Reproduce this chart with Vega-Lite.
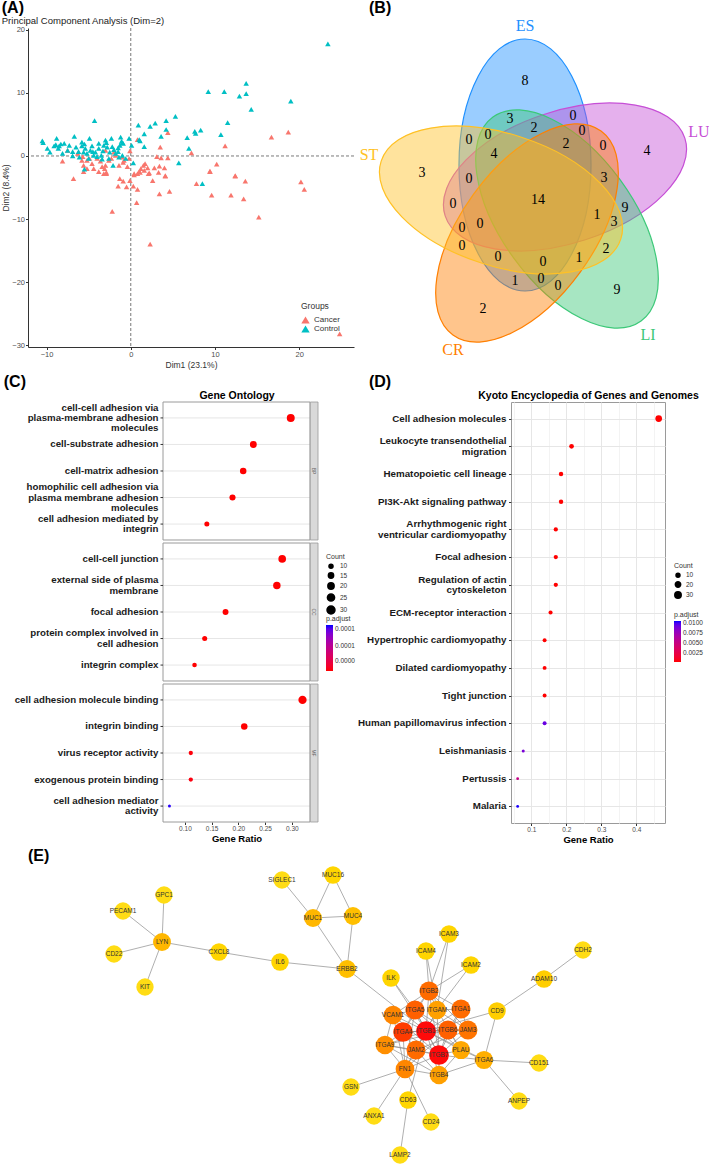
{
"$schema": "https://vega.github.io/schema/vega-lite/v6.json",
"padding": {"left": 1, "top": 0, "right": 0, "bottom": 0},
"background": "white",
"config": {
  "font": "Liberation Sans",
  "view": {"stroke": null},
  "title": {"fontSize": 16, "fontWeight": "bold", "color": "#000", "anchor": "start", "frame": "bounds", "subtitleFontSize": 9.5, "subtitleColor": "#222", "subtitleFont": "Liberation Sans", "font": "Liberation Sans"},
  "axis": {"labelFont": "Liberation Sans", "titleFont": "Liberation Sans"},
  "legend": {"labelFont": "Liberation Sans", "titleFont": "Liberation Sans", "labelColor": "#333", "titleColor": "#333"}
},
"datasets": {
  "pca": [
    {"dim1": 16.7, "dim2": 3.0, "group": "Cancer"}, {"dim1": 18.7, "dim2": 3.8, "group": "Cancer"}, {"dim1": 11.2, "dim2": 1.6, "group": "Cancer"},
    {"dim1": 4.4, "dim2": 3.7, "group": "Cancer"}, {"dim1": 3.5, "dim2": 1.4, "group": "Cancer"}, {"dim1": 7.2, "dim2": 0.5, "group": "Cancer"},
    {"dim1": 0.8, "dim2": 2.6, "group": "Cancer"}, {"dim1": 3.1, "dim2": -0.1, "group": "Cancer"}, {"dim1": 3.6, "dim2": -0.3, "group": "Cancer"},
    {"dim1": 4.4, "dim2": -0.3, "group": "Cancer"}, {"dim1": 10.2, "dim2": -1.3, "group": "Cancer"}, {"dim1": 9.4, "dim2": -2.4, "group": "Cancer"},
    {"dim1": 12.4, "dim2": -3.1, "group": "Cancer"}, {"dim1": 2.8, "dim2": -1.9, "group": "Cancer"}, {"dim1": 3.4, "dim2": -1.6, "group": "Cancer"},
    {"dim1": 4.0, "dim2": -1.9, "group": "Cancer"}, {"dim1": 4.1, "dim2": -3.1, "group": "Cancer"}, {"dim1": -0.1, "dim2": 0.8, "group": "Cancer"},
    {"dim1": -0.2, "dim2": -0.4, "group": "Cancer"}, {"dim1": 1.7, "dim2": -1.2, "group": "Cancer"}, {"dim1": 1.5, "dim2": -1.5, "group": "Cancer"},
    {"dim1": 2.0, "dim2": -1.9, "group": "Cancer"}, {"dim1": 1.2, "dim2": -2.0, "group": "Cancer"}, {"dim1": 0.8, "dim2": -2.8, "group": "Cancer"},
    {"dim1": 0.4, "dim2": -3.0, "group": "Cancer"}, {"dim1": 1.0, "dim2": -2.5, "group": "Cancer"}, {"dim1": 2.2, "dim2": -2.7, "group": "Cancer"},
    {"dim1": 1.6, "dim2": -2.3, "group": "Cancer"}, {"dim1": -3.0, "dim2": 0.9, "group": "Cancer"}, {"dim1": -2.0, "dim2": 0.6, "group": "Cancer"},
    {"dim1": -1.8, "dim2": 0.1, "group": "Cancer"}, {"dim1": -2.6, "dim2": -0.7, "group": "Cancer"}, {"dim1": -3.0, "dim2": -1.5, "group": "Cancer"},
    {"dim1": -3.1, "dim2": -2.0, "group": "Cancer"}, {"dim1": -2.9, "dim2": -2.8, "group": "Cancer"}, {"dim1": -2.3, "dim2": -0.4, "group": "Cancer"},
    {"dim1": -1.0, "dim2": -0.2, "group": "Cancer"}, {"dim1": -0.9, "dim2": -1.0, "group": "Cancer"}, {"dim1": -0.8, "dim2": -0.7, "group": "Cancer"},
    {"dim1": -5.7, "dim2": -0.1, "group": "Cancer"}, {"dim1": -5.2, "dim2": -0.7, "group": "Cancer"}, {"dim1": -5.6, "dim2": -1.5, "group": "Cancer"},
    {"dim1": -4.6, "dim2": -1.2, "group": "Cancer"}, {"dim1": -4.0, "dim2": -0.4, "group": "Cancer"}, {"dim1": -3.6, "dim2": -0.8, "group": "Cancer"},
    {"dim1": -3.4, "dim2": -1.7, "group": "Cancer"}, {"dim1": -4.4, "dim2": -2.0, "group": "Cancer"}, {"dim1": -5.2, "dim2": -2.0, "group": "Cancer"},
    {"dim1": -8.1, "dim2": -0.8, "group": "Cancer"}, {"dim1": -7.5, "dim2": 0.9, "group": "Cancer"}, {"dim1": -6.3, "dim2": 0.4, "group": "Cancer"},
    {"dim1": -5.8, "dim2": -0.7, "group": "Cancer"}, {"dim1": -4.9, "dim2": -0.4, "group": "Cancer"}, {"dim1": -1.4, "dim2": -1.5, "group": "Cancer"},
    {"dim1": -0.4, "dim2": -1.7, "group": "Cancer"}, {"dim1": -3.8, "dim2": -2.5, "group": "Cancer"}, {"dim1": -6.8, "dim2": -3.6, "group": "Cancer"},
    {"dim1": -5.6, "dim2": -2.5, "group": "Cancer"}, {"dim1": -3.2, "dim2": -2.8, "group": "Cancer"}, {"dim1": -2.9, "dim2": -2.6, "group": "Cancer"},
    {"dim1": -1.3, "dim2": -3.6, "group": "Cancer"}, {"dim1": -0.9, "dim2": -4.0, "group": "Cancer"}, {"dim1": -1.5, "dim2": -4.8, "group": "Cancer"},
    {"dim1": -0.5, "dim2": -4.9, "group": "Cancer"}, {"dim1": -0.1, "dim2": -3.9, "group": "Cancer"}, {"dim1": 0.3, "dim2": -4.8, "group": "Cancer"},
    {"dim1": 0.8, "dim2": -5.3, "group": "Cancer"}, {"dim1": 0.7, "dim2": -7.4, "group": "Cancer"}, {"dim1": -2.2, "dim2": -8.8, "group": "Cancer"},
    {"dim1": 0.4, "dim2": -2.8, "group": "Cancer"}, {"dim1": 1.1, "dim2": -2.6, "group": "Cancer"}, {"dim1": 2.1, "dim2": -2.8, "group": "Cancer"},
    {"dim1": 3.3, "dim2": -2.6, "group": "Cancer"}, {"dim1": 2.6, "dim2": -3.9, "group": "Cancer"}, {"dim1": 4.1, "dim2": -3.2, "group": "Cancer"},
    {"dim1": 3.4, "dim2": -6.0, "group": "Cancer"}, {"dim1": 4.6, "dim2": -5.6, "group": "Cancer"}, {"dim1": 2.3, "dim2": -14.0, "group": "Cancer"},
    {"dim1": 7.8, "dim2": -4.4, "group": "Cancer"}, {"dim1": 9.4, "dim2": -2.5, "group": "Cancer"}, {"dim1": 9.6, "dim2": -6.2, "group": "Cancer"},
    {"dim1": 11.9, "dim2": -6.2, "group": "Cancer"}, {"dim1": 12.4, "dim2": -3.2, "group": "Cancer"}, {"dim1": 13.4, "dim2": -6.8, "group": "Cancer"},
    {"dim1": 13.6, "dim2": -4.0, "group": "Cancer"}, {"dim1": 15.2, "dim2": -9.7, "group": "Cancer"}, {"dim1": 20.2, "dim2": -4.1, "group": "Cancer"},
    {"dim1": 20.6, "dim2": -5.3, "group": "Cancer"}, {"dim1": 24.8, "dim2": -28.2, "group": "Cancer"},
    {"dim1": 23.4, "dim2": 17.8, "group": "Control"}, {"dim1": 13.7, "dim2": 11.5, "group": "Control"}, {"dim1": 9.2, "dim2": 10.2, "group": "Control"},
    {"dim1": 11.1, "dim2": 10.2, "group": "Control"}, {"dim1": 13.7, "dim2": 9.9, "group": "Control"}, {"dim1": 12.9, "dim2": 9.5, "group": "Control"},
    {"dim1": 19.0, "dim2": 8.7, "group": "Control"}, {"dim1": 14.3, "dim2": 7.4, "group": "Control"}, {"dim1": 5.3, "dim2": 6.3, "group": "Control"},
    {"dim1": 11.5, "dim2": 5.3, "group": "Control"}, {"dim1": 4.2, "dim2": 5.6, "group": "Control"}, {"dim1": 2.9, "dim2": 5.2, "group": "Control"},
    {"dim1": 2.3, "dim2": 4.7, "group": "Control"}, {"dim1": 0.9, "dim2": 4.9, "group": "Control"}, {"dim1": 4.2, "dim2": 4.2, "group": "Control"},
    {"dim1": 8.3, "dim2": 4.1, "group": "Control"}, {"dim1": 7.6, "dim2": 3.9, "group": "Control"}, {"dim1": 7.7, "dim2": 3.6, "group": "Control"},
    {"dim1": 1.6, "dim2": 3.5, "group": "Control"}, {"dim1": 10.7, "dim2": 3.4, "group": "Control"}, {"dim1": 3.6, "dim2": 3.1, "group": "Control"},
    {"dim1": 6.7, "dim2": 2.9, "group": "Control"}, {"dim1": 1.0, "dim2": 2.6, "group": "Control"}, {"dim1": 1.1, "dim2": 2.4, "group": "Control"},
    {"dim1": 1.6, "dim2": 1.5, "group": "Control"}, {"dim1": 0.1, "dim2": 1.7, "group": "Control"}, {"dim1": 6.9, "dim2": 1.2, "group": "Control"},
    {"dim1": 5.7, "dim2": -1.1, "group": "Control"}, {"dim1": 0.3, "dim2": -1.1, "group": "Control"}, {"dim1": 8.5, "dim2": -4.4, "group": "Control"},
    {"dim1": -4.3, "dim2": 5.6, "group": "Control"}, {"dim1": -10.5, "dim2": 2.4, "group": "Control"}, {"dim1": -10.4, "dim2": 2.1, "group": "Control"},
    {"dim1": -9.6, "dim2": 0.6, "group": "Control"}, {"dim1": -8.8, "dim2": 2.8, "group": "Control"}, {"dim1": -9.1, "dim2": 1.6, "group": "Control"},
    {"dim1": -8.9, "dim2": 1.8, "group": "Control"}, {"dim1": -8.5, "dim2": 1.6, "group": "Control"}, {"dim1": -8.3, "dim2": 1.9, "group": "Control"},
    {"dim1": -8.6, "dim2": 1.2, "group": "Control"}, {"dim1": -7.9, "dim2": 2.0, "group": "Control"}, {"dim1": -7.5, "dim2": 0.9, "group": "Control"},
    {"dim1": -6.7, "dim2": 3.1, "group": "Control"}, {"dim1": -6.9, "dim2": 0.7, "group": "Control"}, {"dim1": -6.5, "dim2": 1.4, "group": "Control"},
    {"dim1": -6.2, "dim2": 0.7, "group": "Control"}, {"dim1": -5.8, "dim2": 2.2, "group": "Control"}, {"dim1": -5.8, "dim2": 1.6, "group": "Control"},
    {"dim1": -5.6, "dim2": 0.6, "group": "Control"}, {"dim1": -5.4, "dim2": 1.2, "group": "Control"}, {"dim1": -5.5, "dim2": 1.9, "group": "Control"},
    {"dim1": -5.2, "dim2": 0.4, "group": "Control"}, {"dim1": -4.9, "dim2": 2.8, "group": "Control"}, {"dim1": -4.8, "dim2": 0.9, "group": "Control"},
    {"dim1": -4.5, "dim2": 0.7, "group": "Control"}, {"dim1": -4.4, "dim2": 0.1, "group": "Control"}, {"dim1": -4.2, "dim2": 0.6, "group": "Control"},
    {"dim1": -4.0, "dim2": -0.1, "group": "Control"}, {"dim1": -3.8, "dim2": 1.2, "group": "Control"}, {"dim1": -3.5, "dim2": 0.1, "group": "Control"},
    {"dim1": -3.3, "dim2": 0.8, "group": "Control"}, {"dim1": -3.0, "dim2": 2.5, "group": "Control"}, {"dim1": -2.9, "dim2": 2.1, "group": "Control"},
    {"dim1": -2.8, "dim2": 1.4, "group": "Control"}, {"dim1": -2.5, "dim2": 0.6, "group": "Control"}, {"dim1": -2.3, "dim2": 2.8, "group": "Control"},
    {"dim1": -2.2, "dim2": 1.5, "group": "Control"}, {"dim1": -2.0, "dim2": 1.0, "group": "Control"}, {"dim1": -1.8, "dim2": 0.4, "group": "Control"},
    {"dim1": -1.5, "dim2": 1.3, "group": "Control"}, {"dim1": -1.5, "dim2": 0.7, "group": "Control"}, {"dim1": -1.2, "dim2": 3.0, "group": "Control"},
    {"dim1": -1.1, "dim2": 2.3, "group": "Control"}, {"dim1": -1.0, "dim2": 2.1, "group": "Control"}, {"dim1": -0.9, "dim2": 2.0, "group": "Control"},
    {"dim1": -1.3, "dim2": 1.7, "group": "Control"}, {"dim1": -0.2, "dim2": 2.8, "group": "Control"}, {"dim1": -0.6, "dim2": -0.4, "group": "Control"},
    {"dim1": -2.1, "dim2": -1.5, "group": "Control"}, {"dim1": -5.5, "dim2": -2.1, "group": "Control"}, {"dim1": -6.9, "dim2": 0.0, "group": "Control"},
    {"dim1": -6.1, "dim2": -0.2, "group": "Control"}, {"dim1": -5.0, "dim2": -0.4, "group": "Control"}, {"dim1": -3.4, "dim2": -0.5, "group": "Control"},
    {"dim1": -2.6, "dim2": -0.4, "group": "Control"}, {"dim1": -1.0, "dim2": 0.1, "group": "Control"}, {"dim1": -8.1, "dim2": 0.4, "group": "Control"},
    {"dim1": -9.9, "dim2": 1.2, "group": "Control"}, {"dim1": -7.3, "dim2": 1.7, "group": "Control"}, {"dim1": -4.6, "dim2": 1.6, "group": "Control"},
    {"dim1": -3.8, "dim2": 2.0, "group": "Control"}, {"dim1": -3.2, "dim2": 1.7, "group": "Control"}, {"dim1": -1.4, "dim2": -0.2, "group": "Control"}
  ],
  "vennSets": [
    {"set": "ES", "cx": 166, "cy": 145},
    {"set": "LU", "cx": 206, "cy": 157},
    {"set": "LI", "cx": 208, "cy": 199},
    {"set": "CR", "cx": 168, "cy": 213},
    {"set": "ST", "cx": 142, "cy": 180}
  ],
  "vennLabels": [
    {"set": "ES", "lx": 166, "ly": 6},
    {"set": "LU", "lx": 340, "ly": 112},
    {"set": "ST", "lx": 10, "ly": 135},
    {"set": "LI", "lx": 289, "ly": 315},
    {"set": "CR", "lx": 94, "ly": 330}
  ],
  "vennCounts": [
    {"vx": 166, "vy": 61, "n": "8"}, {"vx": 151, "vy": 99, "n": "3"}, {"vx": 175, "vy": 108, "n": "2"},
    {"vx": 214, "vy": 96, "n": "0"}, {"vx": 223, "vy": 111, "n": "0"}, {"vx": 207, "vy": 124, "n": "2"},
    {"vx": 244, "vy": 126, "n": "0"}, {"vx": 288, "vy": 131, "n": "4"}, {"vx": 110, "vy": 120, "n": "0"},
    {"vx": 129, "vy": 115, "n": "0"}, {"vx": 135, "vy": 134, "n": "4"}, {"vx": 63, "vy": 153, "n": "3"},
    {"vx": 110, "vy": 159, "n": "0"}, {"vx": 245, "vy": 158, "n": "3"}, {"vx": 179, "vy": 180, "n": "14"},
    {"vx": 94, "vy": 184, "n": "0"}, {"vx": 266, "vy": 188, "n": "9"}, {"vx": 238, "vy": 195, "n": "1"},
    {"vx": 255, "vy": 202, "n": "3"}, {"vx": 103, "vy": 208, "n": "0"}, {"vx": 121, "vy": 204, "n": "0"},
    {"vx": 103, "vy": 226, "n": "0"}, {"vx": 247, "vy": 229, "n": "2"}, {"vx": 139, "vy": 237, "n": "0"},
    {"vx": 184, "vy": 242, "n": "0"}, {"vx": 220, "vy": 238, "n": "1"}, {"vx": 156, "vy": 261, "n": "1"},
    {"vx": 182, "vy": 259, "n": "0"}, {"vx": 199, "vy": 266, "n": "0"}, {"vx": 258, "vy": 270, "n": "9"},
    {"vx": 124, "vy": 289, "n": "2"}
  ],
  "ontologies": [{"ont": "BP"}, {"ont": "CC"}, {"ont": "MF"}],
  "go": [
    {"ont": "BP", "term": "cell-cell adhesion via\nplasma-membrane adhesion\nmolecules", "ratio": 0.298, "count": 30, "padj": 1e-12},
    {"ont": "BP", "term": "cell-substrate adhesion", "ratio": 0.228, "count": 23, "padj": 2e-10},
    {"ont": "BP", "term": "cell-matrix adhesion", "ratio": 0.209, "count": 21, "padj": 4e-10},
    {"ont": "BP", "term": "homophilic cell adhesion via\nplasma membrane adhesion\nmolecules", "ratio": 0.189, "count": 19, "padj": 1e-9},
    {"ont": "BP", "term": "cell adhesion mediated by\nintegrin", "ratio": 0.141, "count": 14, "padj": 2e-8},
    {"ont": "CC", "term": "cell-cell junction", "ratio": 0.282, "count": 28, "padj": 3e-11},
    {"ont": "CC", "term": "external side of plasma\nmembrane", "ratio": 0.272, "count": 27, "padj": 5e-11},
    {"ont": "CC", "term": "focal adhesion", "ratio": 0.176, "count": 18, "padj": 1e-8},
    {"ont": "CC", "term": "protein complex involved in\ncell adhesion", "ratio": 0.137, "count": 14, "padj": 4e-8},
    {"ont": "CC", "term": "integrin complex", "ratio": 0.118, "count": 12, "padj": 6e-8},
    {"ont": "MF", "term": "cell adhesion molecule binding", "ratio": 0.32, "count": 32, "padj": 1e-13},
    {"ont": "MF", "term": "integrin binding", "ratio": 0.211, "count": 21, "padj": 3e-10},
    {"ont": "MF", "term": "virus receptor activity", "ratio": 0.111, "count": 11, "padj": 2e-6},
    {"ont": "MF", "term": "exogenous protein binding", "ratio": 0.111, "count": 11, "padj": 3e-6},
    {"ont": "MF", "term": "cell adhesion mediator\nactivity", "ratio": 0.071, "count": 7, "padj": 0.000108}
  ],
  "kegg": [
    {"term": "Cell adhesion molecules", "ratio": 0.464, "count": 33, "padj": 1e-20},
    {"term": "Leukocyte transendothelial\nmigration", "ratio": 0.215, "count": 15, "padj": 1e-8},
    {"term": "Hematopoietic cell lineage", "ratio": 0.185, "count": 13, "padj": 2e-7},
    {"term": "PI3K-Akt signaling pathway", "ratio": 0.185, "count": 13, "padj": 3e-4},
    {"term": "Arrhythmogenic right\nventricular cardiomyopathy", "ratio": 0.17, "count": 12, "padj": 1e-7},
    {"term": "Focal adhesion", "ratio": 0.17, "count": 12, "padj": 2e-5},
    {"term": "Regulation of actin\ncytoskeleton", "ratio": 0.17, "count": 12, "padj": 4e-5},
    {"term": "ECM-receptor interaction", "ratio": 0.155, "count": 11, "padj": 1e-7},
    {"term": "Hypertrophic cardiomyopathy", "ratio": 0.138, "count": 10, "padj": 5e-6},
    {"term": "Dilated cardiomyopathy", "ratio": 0.138, "count": 10, "padj": 6e-6},
    {"term": "Tight junction", "ratio": 0.138, "count": 10, "padj": 2e-4},
    {"term": "Human papillomavirus infection", "ratio": 0.138, "count": 10, "padj": 0.0093},
    {"term": "Leishmaniasis", "ratio": 0.077, "count": 5, "padj": 0.0088},
    {"term": "Pertussis", "ratio": 0.061, "count": 4, "padj": 0.0052},
    {"term": "Malaria", "ratio": 0.061, "count": 4, "padj": 0.0104}
  ],
  "nodes": [
    {"id": "GPC1", "x": 164, "y": 52, "degree": 1}, {"id": "PECAM1", "x": 123, "y": 68, "degree": 1},
    {"id": "LYN", "x": 162, "y": 99, "degree": 6}, {"id": "CD22", "x": 114, "y": 111, "degree": 1},
    {"id": "KIT", "x": 145, "y": 144, "degree": 1}, {"id": "CXCL8", "x": 219, "y": 109, "degree": 2},
    {"id": "IL6", "x": 280, "y": 119, "degree": 2}, {"id": "ERBB2", "x": 347, "y": 126, "degree": 5},
    {"id": "SIGLEC1", "x": 282, "y": 37, "degree": 1}, {"id": "MUC16", "x": 333, "y": 32, "degree": 2},
    {"id": "MUC1", "x": 313, "y": 75, "degree": 6}, {"id": "MUC4", "x": 353, "y": 73, "degree": 5},
    {"id": "GSN", "x": 351, "y": 244, "degree": 1}, {"id": "ICAM3", "x": 449, "y": 91, "degree": 2},
    {"id": "ICAM4", "x": 426, "y": 108, "degree": 2}, {"id": "ICAM2", "x": 471, "y": 122, "degree": 2},
    {"id": "ILK", "x": 391, "y": 135, "degree": 2}, {"id": "ITGB2", "x": 429, "y": 148, "degree": 15},
    {"id": "VCAM1", "x": 393, "y": 172, "degree": 12}, {"id": "ITGA5", "x": 415, "y": 167, "degree": 16},
    {"id": "ITGAM", "x": 437, "y": 167, "degree": 9}, {"id": "ITGA1", "x": 461, "y": 166, "degree": 15},
    {"id": "CD9", "x": 497, "y": 168, "degree": 3}, {"id": "ADAM10", "x": 544, "y": 136, "degree": 3},
    {"id": "CDH2", "x": 583, "y": 107, "degree": 1}, {"id": "ITGA4", "x": 403, "y": 189, "degree": 19},
    {"id": "ITGB1", "x": 426, "y": 188, "degree": 21}, {"id": "ITGB6", "x": 448, "y": 187, "degree": 16},
    {"id": "JAM3", "x": 468, "y": 187, "degree": 14}, {"id": "ITGA9", "x": 385, "y": 202, "degree": 11},
    {"id": "JAM2", "x": 416, "y": 207, "degree": 15}, {"id": "ITGB7", "x": 439, "y": 212, "degree": 21},
    {"id": "PLAU", "x": 461, "y": 207, "degree": 8}, {"id": "ITGA6", "x": 484, "y": 217, "degree": 7},
    {"id": "CD151", "x": 539, "y": 220, "degree": 1}, {"id": "FN1", "x": 405, "y": 226, "degree": 12},
    {"id": "ITGB4", "x": 439, "y": 232, "degree": 9}, {"id": "CD63", "x": 408, "y": 257, "degree": 2},
    {"id": "ANPEP", "x": 519, "y": 258, "degree": 1}, {"id": "ANXA1", "x": 374, "y": 273, "degree": 1},
    {"id": "CD24", "x": 431, "y": 279, "degree": 1}, {"id": "LAMP2", "x": 400, "y": 312, "degree": 1}
  ],
  "edges": [
    {"source": "LYN", "target": "GPC1"}, {"source": "LYN", "target": "PECAM1"}, {"source": "LYN", "target": "CD22"},
    {"source": "LYN", "target": "KIT"}, {"source": "LYN", "target": "CXCL8"}, {"source": "CXCL8", "target": "IL6"},
    {"source": "IL6", "target": "ERBB2"}, {"source": "SIGLEC1", "target": "MUC1"}, {"source": "MUC1", "target": "MUC16"},
    {"source": "MUC16", "target": "MUC4"}, {"source": "MUC1", "target": "MUC4"}, {"source": "MUC1", "target": "ERBB2"},
    {"source": "MUC4", "target": "ERBB2"}, {"source": "ERBB2", "target": "ITGB1"}, {"source": "ICAM3", "target": "ITGB2"},
    {"source": "ICAM3", "target": "ITGAM"}, {"source": "ICAM4", "target": "ITGB2"}, {"source": "ICAM4", "target": "ITGAM"},
    {"source": "ICAM2", "target": "ITGB2"}, {"source": "ICAM2", "target": "ITGAM"}, {"source": "ILK", "target": "ITGB1"},
    {"source": "ILK", "target": "ITGA5"}, {"source": "CD9", "target": "ITGB1"}, {"source": "CD9", "target": "ITGA6"},
    {"source": "CD9", "target": "ADAM10"}, {"source": "ADAM10", "target": "CDH2"}, {"source": "ITGA6", "target": "CD151"},
    {"source": "ITGA6", "target": "ANPEP"}, {"source": "ITGA6", "target": "ITGB4"}, {"source": "ITGA6", "target": "ITGB1"},
    {"source": "ITGA6", "target": "ITGB7"}, {"source": "ITGA6", "target": "PLAU"}, {"source": "FN1", "target": "GSN"},
    {"source": "FN1", "target": "ANXA1"}, {"source": "FN1", "target": "CD24"}, {"source": "CD63", "target": "LAMP2"},
    {"source": "CD63", "target": "ITGB1"},
    {"source": "ITGB1", "target": "ITGA4"}, {"source": "ITGB1", "target": "ITGA5"}, {"source": "ITGB1", "target": "ITGA1"},
    {"source": "ITGB1", "target": "ITGB6"}, {"source": "ITGB1", "target": "JAM2"}, {"source": "ITGB1", "target": "ITGB7"},
    {"source": "ITGB1", "target": "PLAU"}, {"source": "ITGB1", "target": "VCAM1"}, {"source": "ITGB1", "target": "ITGA9"},
    {"source": "ITGB1", "target": "FN1"}, {"source": "ITGB1", "target": "ITGB4"}, {"source": "ITGB1", "target": "ITGAM"},
    {"source": "ITGB1", "target": "JAM3"}, {"source": "ITGB1", "target": "ITGB2"},
    {"source": "ITGA4", "target": "ITGB7"}, {"source": "ITGA4", "target": "VCAM1"}, {"source": "ITGA4", "target": "JAM2"},
    {"source": "ITGA4", "target": "FN1"}, {"source": "ITGA4", "target": "ITGB2"}, {"source": "ITGA4", "target": "ITGA5"},
    {"source": "ITGA4", "target": "ITGB6"}, {"source": "ITGA4", "target": "JAM3"}, {"source": "ITGA4", "target": "ITGA9"},
    {"source": "ITGB7", "target": "VCAM1"}, {"source": "ITGB7", "target": "JAM2"}, {"source": "ITGB7", "target": "FN1"},
    {"source": "ITGB7", "target": "ITGA5"}, {"source": "ITGB7", "target": "ITGB2"}, {"source": "ITGB7", "target": "ITGA1"},
    {"source": "ITGB7", "target": "ITGAM"}, {"source": "ITGB7", "target": "ITGB6"}, {"source": "ITGB7", "target": "PLAU"},
    {"source": "ITGB7", "target": "JAM3"}, {"source": "ITGB7", "target": "ITGB4"}, {"source": "ITGB7", "target": "ITGA9"},
    {"source": "ITGB2", "target": "ITGAM"}, {"source": "ITGB2", "target": "ITGA5"}, {"source": "ITGB2", "target": "JAM3"},
    {"source": "ITGB2", "target": "VCAM1"}, {"source": "ITGB2", "target": "ITGA1"}, {"source": "ITGA5", "target": "ITGB6"},
    {"source": "ITGA5", "target": "FN1"}, {"source": "ITGA5", "target": "PLAU"}, {"source": "ITGA5", "target": "VCAM1"},
    {"source": "ITGB6", "target": "ITGA1"}, {"source": "ITGB6", "target": "JAM3"}, {"source": "ITGB6", "target": "FN1"},
    {"source": "ITGB6", "target": "PLAU"}, {"source": "ITGB6", "target": "ITGA9"}, {"source": "ITGA1", "target": "JAM3"},
    {"source": "ITGA1", "target": "ITGAM"}, {"source": "JAM3", "target": "ITGAM"}, {"source": "JAM2", "target": "JAM3"},
    {"source": "JAM2", "target": "ITGAM"}, {"source": "PLAU", "target": "ITGAM"}, {"source": "PLAU", "target": "ITGB4"},
    {"source": "ITGB4", "target": "FN1"}, {"source": "ITGB4", "target": "JAM2"}, {"source": "ITGB4", "target": "ITGA9"},
    {"source": "VCAM1", "target": "ITGA9"}, {"source": "VCAM1", "target": "FN1"}, {"source": "ITGA9", "target": "FN1"},
    {"source": "ITGA9", "target": "JAM2"}, {"source": "FN1", "target": "JAM2"}
  ]
},
"columns": 1,
"align": "none",
"spacing": 4,
"resolve": {"scale": {"color": "independent", "size": "independent", "fill": "independent", "stroke": "independent", "angle": "independent"}},
"concat": [
  {
    "spacing": 4,
    "resolve": {"scale": {"color": "independent", "size": "independent", "fill": "independent", "stroke": "independent", "angle": "independent"}},
    "hconcat": [
      {
        "title": {"text": "(A)", "subtitle": "Principal Component Analysis (Dim=2)", "offset": 0, "subtitlePadding": 0},
        "width": 326, "height": 319,
        "layer": [
          {"data": {"values": [{"ref": 0}]}, "mark": {"type": "rule", "strokeDash": [3, 2], "color": "#555", "strokeWidth": 0.8},
           "encoding": {"x": {"field": "ref", "type": "quantitative", "scale": {"domain": [-12.2, 26.5], "nice": false, "zero": false}}}},
          {"data": {"values": [{"ref": 0}]}, "mark": {"type": "rule", "strokeDash": [3, 2], "color": "#555", "strokeWidth": 0.8},
           "encoding": {"y": {"field": "ref", "type": "quantitative", "scale": {"domain": [-30.3, 20.3], "nice": false, "zero": false}}}},
          {"data": {"name": "pca"},
           "mark": {"type": "point", "shape": "triangle-up", "filled": true, "size": 30, "opacity": 1},
           "encoding": {
             "x": {"field": "dim1", "type": "quantitative", "scale": {"domain": [-12.2, 26.5], "nice": false, "zero": false},
                   "axis": {"values": [-10, 0, 10, 20], "title": "Dim1 (23.1%)", "grid": false, "domainColor": "#333", "tickColor": "#333", "tickSize": 2.5, "labelFontSize": 7.5, "labelColor": "#4D4D4D", "titleFontSize": 8.5, "titleFontWeight": "normal", "titleColor": "#333", "titlePadding": 2, "labelPadding": 1}},
             "y": {"field": "dim2", "type": "quantitative", "scale": {"domain": [-30.3, 20.3], "nice": false, "zero": false},
                   "axis": {"values": [-30, -20, -10, 0, 10, 20], "title": "Dim2 (8.4%)", "grid": false, "domainColor": "#333", "tickColor": "#333", "tickSize": 2.5, "labelFontSize": 7.5, "labelColor": "#4D4D4D", "titleFontSize": 8.5, "titleFontWeight": "normal", "titleColor": "#333", "titlePadding": 1, "labelPadding": 1}},
             "color": {"field": "group", "type": "nominal", "scale": {"domain": ["Cancer", "Control"], "range": ["#F8766D", "#00BFC4"]},
                       "legend": {"title": "Groups", "orient": "bottom-right", "offset": 14, "symbolType": "triangle-up", "symbolSize": 70, "labelFontSize": 8, "titleFontSize": 8.5, "titleFontWeight": "normal", "rowPadding": 0, "symbolStrokeWidth": 0}}
           }}
        ]
      },
      {
        "title": {"text": "(B)", "offset": 2, "dx": 10},
        "width": 350, "height": 322,
        "layer": [
          {"data": {"name": "vennSets"},
           "mark": {"type": "point", "shape": "M0,-1C0.2894,-1,0.524,-0.5523,0.524,0C0.524,0.5523,0.2894,1,0,1C-0.2894,1,-0.524,0.5523,-0.524,0C-0.524,-0.5523,-0.2894,-1,0,-1Z", "size": 63504, "fillOpacity": 0.45, "strokeOpacity": 1, "strokeWidth": 1.2, "opacity": 1},
           "encoding": {
             "x": {"field": "cx", "type": "quantitative", "scale": {"domain": [0, 350], "nice": false, "zero": false}, "axis": null},
             "y": {"field": "cy", "type": "quantitative", "scale": {"domain": [8, 330], "nice": false, "zero": false, "reverse": true}, "axis": null},
             "fill": {"field": "set", "type": "nominal", "scale": {"domain": ["ES", "LU", "LI", "CR", "ST"], "range": ["#1E90FF", "#C64FD6", "#3CC878", "#FF7F00", "#FFC125"]}, "legend": null},
             "stroke": {"field": "set", "type": "nominal", "scale": {"domain": ["ES", "LU", "LI", "CR", "ST"], "range": ["#1E90FF", "#C64FD6", "#3CC878", "#FF7F00", "#FFC125"]}, "legend": null},
             "angle": {"field": "set", "type": "nominal", "scale": {"type": "ordinal", "domain": ["ES", "LU", "LI", "CR", "ST"], "range": [0, 72, 144, 216, 288]}, "legend": null}
           }},
          {"data": {"name": "vennCounts"},
           "mark": {"type": "text", "font": "Liberation Serif", "fontSize": 14, "color": "#000"},
           "encoding": {
             "x": {"field": "vx", "type": "quantitative"},
             "y": {"field": "vy", "type": "quantitative"},
             "text": {"field": "n"}
           }},
          {"data": {"name": "vennLabels"},
           "mark": {"type": "text", "font": "Liberation Serif", "fontSize": 16},
           "encoding": {
             "x": {"field": "lx", "type": "quantitative"},
             "y": {"field": "ly", "type": "quantitative"},
             "text": {"field": "set"},
             "fill": {"field": "set", "type": "nominal", "legend": null}
           }}
        ]
      }
    ]
  },
  {
    "spacing": 2,
    "resolve": {"scale": {"color": "independent", "size": "independent", "fill": "independent", "stroke": "independent"}},
    "hconcat": [
      {
        "title": {"text": "(C)", "offset": 0, "dx": -11},
        "width": 282, "height": 420,
        "data": {"name": "go"},
        "transform": [{"window": [{"op": "row_number", "as": "pos"}], "groupby": ["ont"]}],
        "resolve": {"axis": {"x": "independent"}},
        "layer": [
          {"mark": {"type": "rule", "color": "#E6E6E6", "strokeWidth": 1},
           "encoding": {
             "x": {"datum": 0.059, "type": "quantitative", "scale": {"domain": [-0.1936, 0.334], "nice": false, "zero": false}, "axis": null},
             "x2": {"datum": 0.334},
             "y": {"field": "ont", "type": "nominal", "sort": ["BP", "CC", "MF"], "scale": {"type": "band", "paddingInner": 0.0213, "paddingOuter": 0}, "axis": null},
             "yOffset": {"field": "pos", "type": "ordinal", "scale": {"type": "band", "paddingInner": 0, "paddingOuter": 0.1}}
           }},
          {"mark": {"type": "circle", "opacity": 1},
           "encoding": {
             "x": {"field": "ratio", "type": "quantitative", "scale": {"domain": [-0.1936, 0.334], "nice": false, "zero": false},
                   "axis": {"orient": "bottom", "values": [0.075, 0.1, 0.125, 0.15, 0.175, 0.2, 0.225, 0.25, 0.275, 0.3, 0.325], "labelExpr": "abs(datum.value*20 - round(datum.value*20)) > 0.01 ? '' : format(datum.value, '.2f')",
                            "tickOpacity": {"condition": {"test": "abs(datum.value*20 - round(datum.value*20)) > 0.01", "value": 0}, "value": 1},
                            "gridColor": {"condition": {"test": "abs(datum.value*20 - round(datum.value*20)) > 0.01", "value": "#F3F3F3"}, "value": "#E6E6E6"},
                            "title": "Gene Ratio", "titleX": 208.5, "titleFontSize": 9.5, "titleFontWeight": "bold", "titleColor": "#000", "titlePadding": 1,
                            "domain": false, "tickColor": "#333", "tickSize": 2.5, "labelFontSize": 6.5, "labelColor": "#4D4D4D", "labelPadding": 1}},
             "y": {"field": "ont", "type": "nominal", "sort": ["BP", "CC", "MF"], "axis": null},
             "yOffset": {"field": "pos", "type": "ordinal"},
             "size": {"field": "count", "type": "quantitative", "scale": {"domain": [7, 32], "range": [9, 68]},
                      "legend": {"title": "Count", "values": [10, 15, 20, 25, 30], "orient": "none", "legendX": 298, "legendY": 151, "symbolFillColor": "#000", "symbolStrokeColor": "#000", "symbolType": "circle", "labelFontSize": 6.5, "titleFontSize": 7, "titleFontWeight": "normal", "rowPadding": -3, "titlePadding": 3}},
             "color": {"field": "padj", "type": "quantitative", "scale": {"domain": [0, 0.00011], "range": ["#FF0000", "#0000FF"], "interpolate": "lab", "clamp": true},
                       "legend": {"title": "p.adjust", "values": [0.000025, 0.00006, 0.0001], "format": ".4f", "gradientLength": 46, "gradientThickness": 7, "orient": "none", "legendX": 298, "legendY": 213, "labelFontSize": 6.5, "titleFontSize": 7, "titleFontWeight": "normal", "titlePadding": 3}}
           }},
          {"data": {"name": "ontologies"},
           "mark": {"type": "rect", "fillOpacity": 0, "fill": "#fff", "stroke": "#9A9A9A", "strokeWidth": 1},
           "encoding": {
             "x": {"datum": 0.059, "type": "quantitative", "axis": {"orient": "top", "title": "Gene Ontology", "titleX": 208.5, "labels": false, "ticks": false, "domain": false, "grid": false, "titleFontSize": 10.5, "titleFontWeight": "bold", "titleColor": "#000", "titlePadding": 2}},
             "x2": {"datum": 0.334},
             "y": {"field": "ont", "type": "nominal", "sort": ["BP", "CC", "MF"], "axis": null}
           }},
          {"data": {"name": "ontologies"},
           "mark": {"type": "rect", "fill": "#D9D9D9", "stroke": "#9A9A9A", "strokeWidth": 0.8},
           "encoding": {
             "x": {"datum": 0.3345, "type": "quantitative", "axis": null},
             "x2": {"datum": 0.349},
             "y": {"field": "ont", "type": "nominal", "sort": ["BP", "CC", "MF"], "axis": null}
           }},
          {"data": {"name": "ontologies"},
           "mark": {"type": "text", "angle": 90, "fontSize": 5, "color": "#666"},
           "encoding": {
             "x": {"datum": 0.3418, "type": "quantitative", "axis": null},
             "y": {"field": "ont", "type": "nominal", "sort": ["BP", "CC", "MF"], "axis": null},
             "text": {"field": "ont"}
           }},
          {"mark": {"type": "rule", "color": "#333", "strokeWidth": 1},
           "encoding": {
             "x": {"datum": 0.0543, "type": "quantitative", "axis": null},
             "x2": {"datum": 0.059},
             "y": {"field": "ont", "type": "nominal", "sort": ["BP", "CC", "MF"], "axis": null},
             "yOffset": {"field": "pos", "type": "ordinal"}
           }},
          {"transform": [{"filter": "length(split(datum.term, '\\n')) == 1"}],
           "mark": {"type": "text", "align": "right", "baseline": "middle", "fontSize": 9.7, "fontWeight": "bold", "color": "#1A1A1A", "lineBreak": "\n", "lineHeight": 10.4, "dy": 0},
           "encoding": {"x": {"datum": 0.0505, "type": "quantitative", "axis": null}, "y": {"field": "ont", "type": "nominal", "sort": ["BP", "CC", "MF"], "axis": null}, "yOffset": {"field": "pos", "type": "ordinal"}, "text": {"field": "term"}}},
          {"transform": [{"filter": "length(split(datum.term, '\\n')) == 2"}],
           "mark": {"type": "text", "align": "right", "baseline": "middle", "fontSize": 9.7, "fontWeight": "bold", "color": "#1A1A1A", "lineBreak": "\n", "lineHeight": 10.4, "dy": -5.2},
           "encoding": {"x": {"datum": 0.0505, "type": "quantitative", "axis": null}, "y": {"field": "ont", "type": "nominal", "sort": ["BP", "CC", "MF"], "axis": null}, "yOffset": {"field": "pos", "type": "ordinal"}, "text": {"field": "term"}}},
          {"transform": [{"filter": "length(split(datum.term, '\\n')) == 3"}],
           "mark": {"type": "text", "align": "right", "baseline": "middle", "fontSize": 9.7, "fontWeight": "bold", "color": "#1A1A1A", "lineBreak": "\n", "lineHeight": 10.4, "dy": -10.4},
           "encoding": {"x": {"datum": 0.0505, "type": "quantitative", "axis": null}, "y": {"field": "ont", "type": "nominal", "sort": ["BP", "CC", "MF"], "axis": null}, "yOffset": {"field": "pos", "type": "ordinal"}, "text": {"field": "term"}}}
        ]
      },
      {
        "title": {"text": "(D)", "offset": 0, "dx": 11},
        "data": {"name": "kegg"},
        "width": 154, "height": 421,
        "view": {"stroke": "#9A9A9A", "strokeWidth": 1},
        "resolve": {"axis": {"x": "independent"}},
        "layer": [
          {"mark": {"type": "circle", "opacity": 1},
           "encoding": {
             "x": {"field": "ratio", "type": "quantitative", "scale": {"domain": [0.042, 0.482], "nice": false, "zero": false},
                   "axis": {"orient": "bottom", "values": [0.05, 0.1, 0.15, 0.2, 0.25, 0.3, 0.35, 0.4, 0.45], "labelExpr": "abs(datum.value*10 - round(datum.value*10)) > 0.01 ? '' : format(datum.value, '.1f')",
                            "tickOpacity": {"condition": {"test": "abs(datum.value*10 - round(datum.value*10)) > 0.01", "value": 0}, "value": 1},
                            "gridColor": {"condition": {"test": "abs(datum.value*10 - round(datum.value*10)) > 0.01", "value": "#F3F3F3"}, "value": "#E6E6E6"},
                            "title": "Gene Ratio", "titleFontSize": 9.5, "titleFontWeight": "bold", "titleColor": "#000", "titlePadding": 1,
                            "domain": false, "tickColor": "#333", "tickSize": 2.5, "labelFontSize": 6.5, "labelColor": "#4D4D4D", "labelPadding": 1}},
             "y": {"field": "term", "type": "nominal", "sort": null, "scale": {"type": "point", "padding": 0.6},
                   "axis": {"title": null, "labels": false, "tickSize": 2.5, "tickColor": "#333", "domain": false, "grid": true, "gridColor": "#E6E6E6"}},
             "size": {"field": "count", "type": "quantitative", "scale": {"domain": [4, 33], "range": [8, 45]},
                      "legend": {"title": "Count", "values": [10, 20, 30], "orient": "none", "legendX": 163, "legendY": 160, "symbolFillColor": "#000", "symbolStrokeColor": "#000", "symbolType": "circle", "labelFontSize": 6.5, "titleFontSize": 7, "titleFontWeight": "normal", "rowPadding": -4, "titlePadding": 3}},
             "color": {"field": "padj", "type": "quantitative", "scale": {"domain": [0.0003, 0.0105], "range": ["#FF0000", "#0000FF"], "interpolate": "lab", "clamp": true},
                       "legend": {"title": "p.adjust", "values": [0.0025, 0.005, 0.0075, 0.01], "format": ".4f", "gradientLength": 41, "gradientThickness": 7, "orient": "none", "legendX": 163, "legendY": 209, "labelFontSize": 6.5, "titleFontSize": 7, "titleFontWeight": "normal", "titlePadding": 3}}
           }},
          {"transform": [{"filter": "length(split(datum.term, '\\n')) == 1"}],
           "mark": {"type": "text", "align": "right", "baseline": "middle", "fontSize": 9.8, "fontWeight": "bold", "color": "#1A1A1A", "lineBreak": "\n", "lineHeight": 10.4, "dy": 0},
           "encoding": {"x": {"datum": 0.0291, "type": "quantitative", "axis": {"orient": "top", "title": "Kyoto Encyclopedia of Genes and Genomes", "labels": false, "ticks": false, "domain": false, "grid": false, "titleFontSize": 10.5, "titleFontWeight": "bold", "titleColor": "#000", "titlePadding": 2}},
                        "y": {"field": "term", "type": "nominal", "sort": null}, "text": {"field": "term"}}},
          {"transform": [{"filter": "length(split(datum.term, '\\n')) == 2"}],
           "mark": {"type": "text", "align": "right", "baseline": "middle", "fontSize": 9.8, "fontWeight": "bold", "color": "#1A1A1A", "lineBreak": "\n", "lineHeight": 10.4, "dy": -5.2},
           "encoding": {"x": {"datum": 0.0291, "type": "quantitative", "axis": null}, "y": {"field": "term", "type": "nominal", "sort": null}, "text": {"field": "term"}}}
        ]
      }
    ]
  },
  {
    "title": {"text": "(E)", "offset": 2},
    "width": 677, "height": 294,
    "layer": [
      {"data": {"name": "edges"},
       "transform": [
         {"lookup": "source", "from": {"data": {"name": "nodes"}, "key": "id", "fields": ["x", "y"]}, "as": ["sx", "sy"]},
         {"lookup": "target", "from": {"data": {"name": "nodes"}, "key": "id", "fields": ["x", "y"]}, "as": ["tx", "ty"]}
       ],
       "mark": {"type": "rule", "color": "#8C8C8C", "strokeWidth": 0.7},
       "encoding": {
         "x": {"field": "sx", "type": "quantitative", "scale": {"domain": [28, 705], "nice": false, "zero": false}, "axis": null},
         "y": {"field": "sy", "type": "quantitative", "scale": {"domain": [30, 324], "nice": false, "zero": false, "reverse": true}, "axis": null},
         "x2": {"field": "tx"},
         "y2": {"field": "ty"}
       }},
      {"data": {"name": "nodes"},
       "mark": {"type": "circle", "opacity": 1},
       "encoding": {
         "x": {"field": "x", "type": "quantitative"},
         "y": {"field": "y", "type": "quantitative"},
         "color": {"field": "degree", "type": "quantitative", "scale": {"domain": [1, 21], "range": ["#FFDC14", "#FF0A0A"]}, "legend": null},
         "size": {"field": "degree", "type": "quantitative", "scale": {"domain": [1, 21], "range": [300, 390]}, "legend": null}
       }},
      {"data": {"name": "nodes"},
       "mark": {"type": "text", "fontSize": 6.5, "color": "#333"},
       "encoding": {
         "x": {"field": "x", "type": "quantitative"},
         "y": {"field": "y", "type": "quantitative"},
         "text": {"field": "id"}
       }}
    ]
  }
]
}
